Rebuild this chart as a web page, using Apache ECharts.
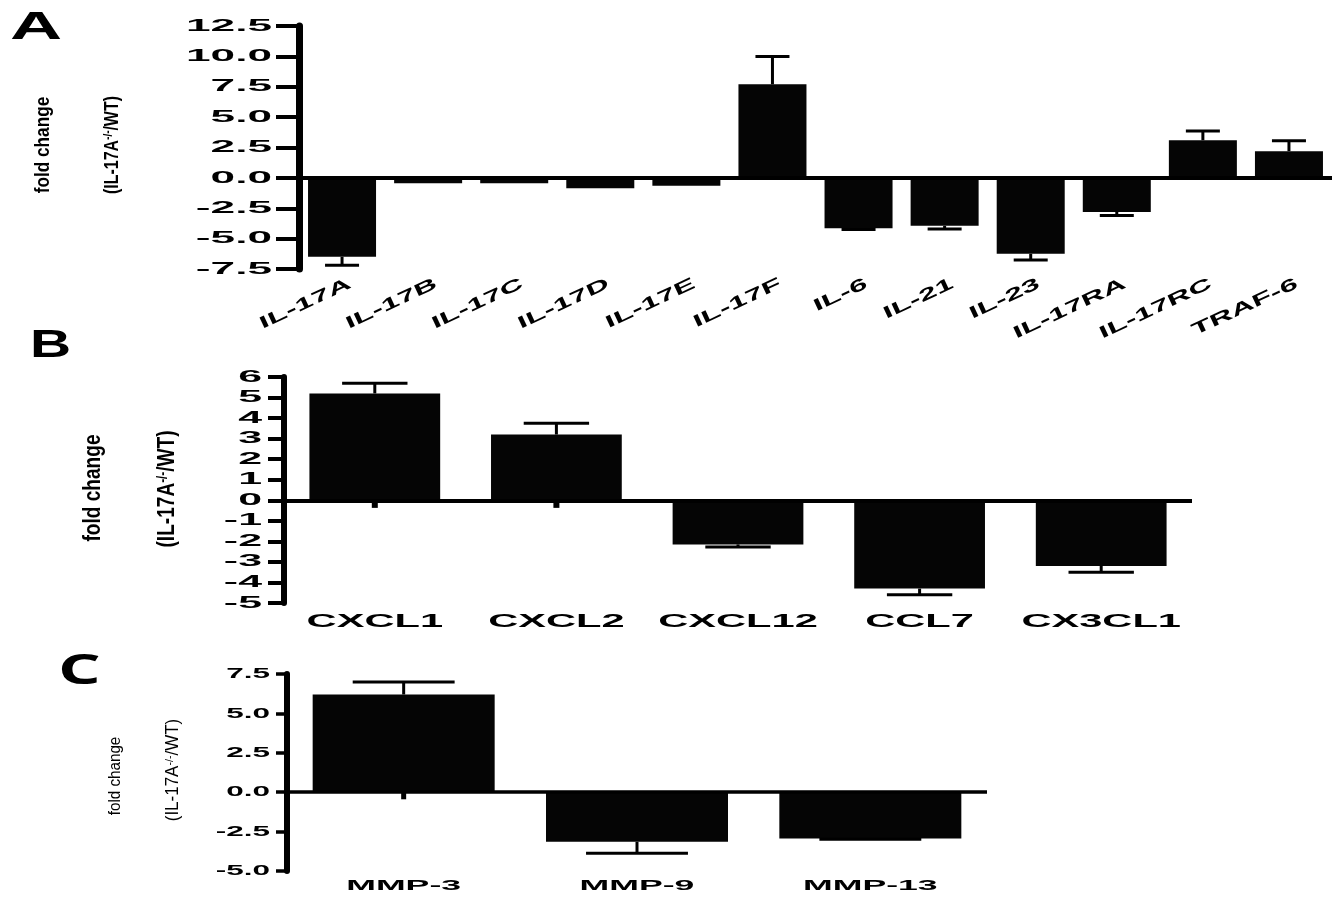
<!DOCTYPE html>
<html>
<head>
<meta charset="utf-8">
<script src="https://cdn.jsdelivr.net/npm/echarts@6/dist/echarts.min.js"></script>
<style>
html,body{margin:0;padding:0;background:#fff;}
#c{width:1342px;height:901px;}
</style>
</head>
<body>
<div id="c"></div>
<script>
// ---------- DATA ----------
const catsA = ['IL-17A','IL-17B','IL-17C','IL-17D','IL-17E','IL-17F','IL-6','IL-21','IL-23','IL-17RA','IL-17RC','TRAF-6'];
const valsA = [-6.5, -0.45, -0.45, -0.85, -0.65, 7.7, -4.15, -3.95, -6.25, -2.8, 3.1, 2.2];
const errA  = [0.7, 0, 0, 0, 0, 2.3, 0.1, 0.25, 0.5, 0.3, 0.75, 0.85];
const stubA = [null, null, null, null, null, null, null, null, null, null, null, null];
const tickLabelsA = ['12.5','10.0','7.5','5.0','2.5','0.0','-2.5','-5.0','-7.5'];

const catsB = ['CXCL1','CXCL2','CXCL12','CCL7','CX3CL1'];
const valsB = [5.2, 3.2, -2.15, -4.3, -3.2];
const errB  = [0.5, 0.55, 0.13, 0.3, 0.3];
const stubB = [-0.37, -0.37, null, null, null];
const tickLabelsB = ['6','5','4','3','2','1','0','-1','-2','-3','-4','-5'];

const catsC = ['MMP-3','MMP-9','MMP-13'];
const valsC = [6.2, -3.15, -2.93];
const errC  = [0.8, 0.72, 0.06];
const stubC = [-0.45, null, null];
const tickLabelsC = ['7.5','5.0','2.5','0.0','-2.5','-5.0'];

// ---------- STYLE / LAYOUT ----------
const LS = '"Liberation Sans", Arial, Helvetica, sans-serif';
function font(w, s, fam){ return w + ' ' + s + 'px ' + (fam || LS); }

const panels = [
  { cats: catsA, vals: valsA, err: errA, stub: stubA, ticks: tickLabelsA,
    min: -7.5, max: 12.5, interval: 2.5,
    grid: { left: 299, right: 10, top: 26, bottom: 632 },
    axisW: 7, tickLen: 23, tickW: 4, zeroW: 4, barFrac: 0.79, capFrac: 0.5, errW: 3, stubW: 6,
    tickFont: font('bold', 17), tickS: 2.6, tickGap: 27,
    lab: { rot: 25, dx: 8, dy: 14, S: 1.9, font: font('bold', 17), align: 'right' } },
  { cats: catsB, vals: valsB, err: errB, stub: stubB, ticks: tickLabelsB,
    min: -5, max: 6, interval: 1,
    grid: { left: 284, right: 150, top: 377, bottom: 298 },
    axisW: 6, tickLen: 16, tickW: 4, zeroW: 4, barFrac: 0.72, capFrac: 0.5, errW: 3, stubW: 6,
    tickFont: font('bold', 16.5), tickS: 2.6, tickGap: 22,
    lab: { rot: 0, dx: 0, dy: 19, S: 2.25, font: font('bold', 18.5), align: 'center' } },
  { cats: catsC, vals: valsC, err: errC, stub: stubC, ticks: tickLabelsC,
    min: -5, max: 7.5, interval: 2.5,
    grid: { left: 287, right: 355, top: 674, bottom: 30 },
    axisW: 6, tickLen: 11, tickW: 3.5, zeroW: 3.5, barFrac: 0.78, capFrac: 0.56, errW: 3, stubW: 5,
    tickFont: font('bold', 15), tickS: 2.1, tickGap: 17,
    lab: { rot: 0, dx: 0, dy: 15, S: 2.3, font: font('bold', 15.5), align: 'center' } }
];

// ---------- BUILD ----------
const grids = [], xAxes = [], yAxes = [], series = [];

panels.forEach(function(P, gi){
  grids.push(Object.assign({ containLabel: false }, P.grid));
  xAxes.push({ type: 'category', gridIndex: gi, data: P.cats, boundaryGap: true,
    axisLine: { show: false }, axisTick: { show: false }, axisLabel: { show: false }, splitLine: { show: false } });
  yAxes.push({ type: 'value', gridIndex: gi, min: P.min, max: P.max, interval: P.interval,
    axisLine: { show: true, onZero: false, lineStyle: { color: '#000', width: P.axisW } },
    axisTick: { show: true, length: P.tickLen, lineStyle: { color: '#000', width: P.tickW } },
    axisLabel: { show: false }, splitLine: { show: false } });

  // bars
  series.push({ type: 'bar', xAxisIndex: gi, yAxisIndex: gi, data: P.vals,
    barWidth: (P.barFrac * 100) + '%', silent: true,
    itemStyle: { color: '#050505' },
    markLine: { silent: true, symbol: ['none', 'none'], label: { show: false },
      lineStyle: { color: '#000', width: P.zeroW, type: 'solid' }, data: [{ yAxis: 0 }] } });

  // error bars
  series.push({ type: 'custom', xAxisIndex: gi, yAxisIndex: gi, silent: true, z: 5,
    data: P.vals.map(function(v, k){ return [k, v, P.err[k], P.stub[k] == null ? NaN : P.stub[k]]; }),
    renderItem: function(params, api){
      const i = api.value(0), v = api.value(1), e = api.value(2), s = api.value(3);
      const band = api.size([1, 0])[0];
      const ch = [];
      if (e > 0) {
        const dir = v >= 0 ? 1 : -1;
        const p0 = api.coord([i, v]), p1 = api.coord([i, v + dir * e]);
        const hw = band * P.barFrac * P.capFrac / 2;
        ch.push({ type: 'line', shape: { x1: p0[0], y1: p0[1], x2: p1[0], y2: p1[1] }, style: { stroke: '#000', lineWidth: P.errW } });
        ch.push({ type: 'line', shape: { x1: p1[0] - hw, y1: p1[1], x2: p1[0] + hw, y2: p1[1] }, style: { stroke: '#000', lineWidth: P.errW } });
      }
      if (!isNaN(s) && s !== 0) {
        const q0 = api.coord([i, 0]), q1 = api.coord([i, s]);
        ch.push({ type: 'line', shape: { x1: q0[0], y1: q0[1], x2: q1[0], y2: q1[1] }, style: { stroke: '#000', lineWidth: P.stubW } });
      }
      return { type: 'group', children: ch };
    } });

  // category labels
  series.push({ type: 'custom', xAxisIndex: gi, yAxisIndex: gi, silent: true, z: 6,
    data: P.cats.map(function(c, k){ return [k, P.min]; }),
    renderItem: function(params, api){
      const p = api.coord([api.value(0), api.value(1)]);
      return { type: 'text', x: p[0] + P.lab.dx, y: p[1] + P.lab.dy,
        rotation: P.lab.rot * Math.PI / 180, scaleX: P.lab.S,
        style: { text: P.cats[params.dataIndex], fill: '#000', font: P.lab.font,
          align: P.lab.align, verticalAlign: 'middle' } };
    } });

  // tick labels
  series.push({ type: 'custom', xAxisIndex: gi, yAxisIndex: gi, silent: true, z: 6,
    data: P.ticks.map(function(t){ return [0, parseFloat(t)]; }),
    renderItem: function(params, api){
      const p = api.coord([0, api.value(1)]);
      const band = api.size([1, 0])[0];
      return { type: 'text', x: p[0] - band / 2 - P.tickGap, y: p[1], scaleX: P.tickS,
        style: { text: P.ticks[params.dataIndex], fill: '#000', font: P.tickFont,
          align: 'right', verticalAlign: 'middle' } };
    } });
});

// panel letters & y-axis titles
function yTitle(x, y, size, weight, sx, txt){
  return { type: 'text', x: x, y: y, rotation: Math.PI / 2, scaleX: sx,
    style: { text: txt, fill: '#000', fontSize: size, fontFamily: LS, fontWeight: weight,
      align: 'center', verticalAlign: 'middle',
      rich: { sup: { fontSize: Math.round(size * 0.62), fontFamily: LS, fontWeight: weight, verticalAlign: 'top', fill: '#000' } } } };
}
const graphics = [
  { type: 'text', x: 10, y: 29, scaleX: 1.9, style: { text: 'A', fill: '#000', font: font('bold', 38), align: 'left', verticalAlign: 'middle' } },
  { type: 'text', x: 30, y: 346, scaleX: 1.46, style: { text: 'B', fill: '#000', font: font('bold', 39), align: 'left', verticalAlign: 'middle' } },
  { type: 'text', x: 58, y: 672, scaleX: 1.6, style: { text: 'C', fill: '#000', font: font('bold', 42, '"Open Sans", ' + LS), align: 'left', verticalAlign: 'middle' } },
  yTitle(43, 145, 21, 'bold', 0.82, 'fold change'),
  yTitle(112, 145, 21, 'bold', 0.76, '(IL-17A{sup|-/-}/WT)'),
  yTitle(94, 488, 23, 'bold', 0.83, 'fold change'),
  yTitle(168, 489, 23, 'bold', 0.83, '(IL-17A{sup|-/-}/WT)'),
  yTitle(116, 776, 16, 'normal', 0.95, 'fold change'),
  yTitle(173, 770, 17.5, 'normal', 0.97, '(IL-17A{sup|-/-}/WT)')
];

const chart = echarts.init(document.getElementById('c'), null, { renderer: 'canvas' });
chart.setOption({
  backgroundColor: '#ffffff',
  animation: false,
  grid: grids, xAxis: xAxes, yAxis: yAxes, series: series,
  graphic: graphics
});
</script>
</body>
</html>
